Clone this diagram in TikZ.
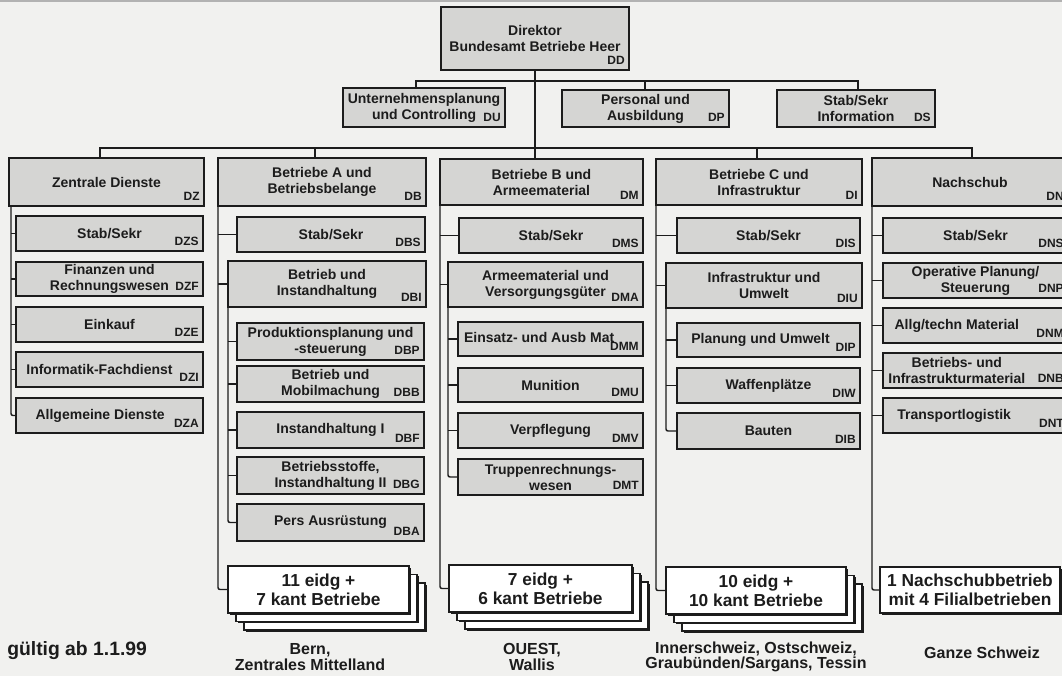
\documentclass[tikz,border=0pt]{standalone}
\usepackage{fontspec}
\setmainfont{Liberation Sans}
\usetikzlibrary{shadows,backgrounds}
\definecolor{bg}{HTML}{F1F1EF}
\definecolor{boxfill}{HTML}{D5D5D3}
\definecolor{ink}{HTML}{1C1C1C}
\tikzset{
  gbox/.style={draw=ink, line width=1.1pt, fill=boxfill, inner sep=0pt, outer sep=0pt,
    drop shadow={shadow xshift=1.1pt, shadow yshift=-1.1pt, fill=ink, opacity=1}},
  wbox/.style={draw=ink, line width=1.1pt, fill=white, inner sep=0pt, outer sep=0pt,
    drop shadow={shadow xshift=1.3pt, shadow yshift=-1.3pt, fill=ink, opacity=1}},
  main/.style={font=\bfseries\fontsize{10.5}{12}\selectfont, align=center, inner sep=0pt, text=ink},
  code/.style={font=\bfseries\fontsize{9}{10}\selectfont, inner xsep=3pt, inner ysep=4pt, text=ink, anchor=south east},
  big/.style={font=\bfseries\fontsize{13}{14.5}\selectfont, align=center, inner sep=0pt, text=ink},
  lbl/.style={font=\bfseries\fontsize{12}{11.5}\selectfont, align=center, inner sep=0pt, text=ink},
  conn/.style={draw=ink, line width=1.1pt},
  rc/.style={rounded corners=1.5pt},
}
% #1 text options, #2 name, #3 x1, #4 y1, #5 x2, #6 y2, #7 text, #8 code
\newcommand\bx[8][]{%
  \node[gbox, minimum width={(#5-#3)*0.75pt}, minimum height={(#6-#4)*0.75pt}] (#2) at ({(#3+#5)/2},{(#4+#6)/2}) {};
  \node[main,#1] (#2t) at (#2.center) {#7};
  \node[code] (#2c) at (#2.south east) {#8};}
% stacked white boxes: #1 name, #2 x1, #3 y1, #4 x2, #5 y2, #6 text
\newcommand\stk[6]{%
  \node[wbox, minimum width={(#4-#2)*0.75pt}, minimum height={(#5-#3)*0.75pt}] (#1c) at ({(#2+#4)/2+16},{(#3+#5)/2+17}) {};
  \node[wbox, minimum width={(#4-#2)*0.75pt}, minimum height={(#5-#3)*0.75pt}] (#1b) at ({(#2+#4)/2+8},{(#3+#5)/2+8.5}) {};
  \node[wbox, minimum width={(#4-#2)*0.75pt}, minimum height={(#5-#3)*0.75pt}] (#1) at ({(#2+#4)/2},{(#3+#5)/2}) {};
  \node[big] (#1t) at (#1.center) {#6};}
\begin{document}
\begin{tikzpicture}[x=0.75pt,y=-0.75pt]
\useasboundingbox (0,0) rectangle (1062,676);
\begin{scope}[on background layer]
  \fill[bg] (0,0) rectangle (1062,676);
  \draw[gray!60, line width=1.5pt] (0,1) -- (1062,1);
\end{scope}

% director and staff
\bx{D}{441}{7}{629}{70}{Direktor\\Bundesamt Betriebe Heer}{DD}
\bx[align=right]{DU}{343}{88}{505}{127}{Unternehmensplanung\\und Controlling\hspace*{18pt}}{DU}
\bx{DP}{562}{90}{729}{127}{Personal und\\Ausbildung}{DP}
\bx{DS}{777}{90}{935}{127}{Stab/Sekr\\Information}{DS}

% column heads
\bx{DZ}{9}{158}{204}{206}{Zentrale Dienste}{DZ}
\bx{DB}{218}{158}{426}{206}{Betriebe A und\\Betriebsbelange}{DB}
\bx{DM}{440}{159}{643}{205}{Betriebe B und\\Armeematerial}{DM}
\bx{DI}{656}{159}{862}{205}{Betriebe C und\\Infrastruktur}{DI}
\bx{DN}{872}{158}{1068}{206}{Nachschub}{DN}

% DZ
\bx{DZS}{16}{216}{203}{251}{Stab/Sekr}{DZS}
\bx{DZF}{16}{262}{203}{296}{Finanzen und\\Rechnungswesen}{DZF}
\bx{DZE}{16}{307}{203}{342}{Einkauf}{DZE}
\bx[xshift=-7.5pt]{DZI}{16}{352}{203}{387}{Informatik-Fachdienst}{DZI}
\bx[xshift=-7pt]{DZA}{16}{398}{203}{433}{Allgemeine Dienste}{DZA}

% DB
\bx{DBS}{237}{217}{425}{252}{Stab/Sekr}{DBS}
\bx{DBI}{228}{261}{426}{307}{Betrieb und\\Instandhaltung}{DBI}
\bx{DBP}{237}{323}{424}{360}{Produktionsplanung und\\-steuerung}{DBP}
\bx{DBB}{237}{366}{424}{402}{Betrieb und\\Mobilmachung}{DBB}
\bx{DBF}{237}{412}{424}{448}{Instandhaltung I}{DBF}
\bx{DBG}{237}{457}{424}{494}{Betriebsstoffe,\\Instandhaltung II}{DBG}
\bx{DBA}{237}{504}{424}{541}{Pers Ausrüstung}{DBA}

% DM
\bx{DMS}{459}{218}{643}{253}{Stab/Sekr}{DMS}
\bx{DMA}{448}{262}{643}{307}{Armeematerial und\\Versorgungsgüter}{DMA}
\bx[xshift=-8.5pt,yshift=1pt]{DMM}{458}{322}{643}{356}{Einsatz- und Ausb Mat}{DMM}
\bx{DMU}{458}{368}{643}{402}{Munition}{DMU}
\bx{DMV}{458}{413}{643}{448}{Verpflegung}{DMV}
\bx{DMT}{458}{459}{643}{495}{Truppenrechnungs-\\wesen}{DMT}

% DI
\bx{DIS}{677}{218}{860}{253}{Stab/Sekr}{DIS}
\bx{DIU}{666}{263}{862}{308}{Infrastruktur und\\Umwelt}{DIU}
\bx[xshift=-6pt]{DIP}{677}{323}{860}{357}{Planung und Umwelt}{DIP}
\bx{DIW}{677}{368}{860}{403}{Waffenplätze}{DIW}
\bx{DIB}{677}{413}{860}{449}{Bauten}{DIB}

% DN
\bx{DNS}{883}{218}{1068}{253}{Stab/Sekr}{DNS}
\bx{DNP}{883}{263}{1068}{298}{Operative Planung/\\Steuerung}{DNP}
\bx[xshift=-14pt]{DNM}{883}{308}{1068}{343}{Allg/techn Material}{DNM}
\bx[xshift=-14pt]{DNB}{883}{353}{1068}{388}{Betriebs- und\\Infrastrukturmaterial}{DNB}
\bx[xshift=-16pt]{DNT}{883}{398}{1068}{433}{Transportlogistik}{DNT}

% Betriebe
\stk{DBst}{228}{566}{409}{613}{11 eidg +\\7 kant Betriebe}
\stk{DMst}{449}{565}{632}{612}{7 eidg +\\6 kant Betriebe}
\stk{DIst}{666}{567}{846}{614}{10 eidg +\\10 kant Betriebe}
\node[wbox, minimum width={180*0.75pt}, minimum height={46*0.75pt}] (DNst) at (970,590) {};
\node[big] (DNstt) at (DNst.center) {1 Nachschubbetrieb\\mit 4 Filialbetrieben};

% regions
\node[lbl] (lB) at (310,657) {Bern,\\Zentrales Mittelland};
\node[lbl] (lM) at (532,657) {OUEST,\\Wallis};
\node[lbl] (lI) at (756,657) {Innerschweiz, Ostschweiz,\\Graubünden/Sargans, Tessin};
\node[lbl] (lN) at (982,653) {Ganze Schweiz};
\node[font=\bfseries\fontsize{14.5}{16}\selectfont, anchor=west, inner sep=0pt, text=ink] (valid) at (7,651) {gültig ab 1.1.99};

% connectors
\begin{scope}[on background layer]
  \coordinate (sU) at (416,81);
  \coordinate (sP) at (645,81);
  \coordinate (sS) at (858,81);
  \draw[conn] (sU |- DU.north) -- (sU) -- (sS) -- (sS |- DS.north);
  \draw[conn] (sP) -- (sP |- DP.north);
  \draw[conn] (D.south) -- (D.south |- DM.north);
  \coordinate (bZ) at (100,148);
  \coordinate (bB) at (315,148);
  \coordinate (bI) at (757,148);
  \coordinate (bN) at (972,148);
  \draw[conn] (bZ |- DZ.north) -- (bZ) -- (bN) -- (bN |- DN.north);
  \draw[conn] (bB) -- (bB |- DB.north);
  \draw[conn] (bI) -- (bI |- DI.north);
  % DZ column
  \coordinate (zx) at ([xshift=1.5pt]DZ.south west);
  \draw[conn,rc] (zx) |- (DZA.west);
  \foreach \s in {DZS,DZF,DZE,DZI} \draw[conn] (zx |- \s.west) -- (\s.west);
  % DB column
  \draw[conn,rc] (DB.south west) |- (DBst.west);
  \foreach \s in {DBS,DBI} \draw[conn] (DB.south west |- \s.west) -- (\s.west);
  \draw[conn,rc] (DBI.south west) |- (DBA.west);
  \foreach \s in {DBP,DBB,DBF,DBG} \draw[conn] (DBI.south west |- \s.west) -- (\s.west);
  % DM column
  \draw[conn,rc] (DM.south west) |- (DMst.west);
  \foreach \s in {DMS,DMA} \draw[conn] (DM.south west |- \s.west) -- (\s.west);
  \draw[conn,rc] (DMA.south west) |- (DMT.west);
  \foreach \s in {DMM,DMU,DMV} \draw[conn] (DMA.south west |- \s.west) -- (\s.west);
  % DI column
  \draw[conn,rc] (DI.south west) |- (DIst.west);
  \foreach \s in {DIS,DIU} \draw[conn] (DI.south west |- \s.west) -- (\s.west);
  \draw[conn,rc] (DIU.south west) |- (DIB.west);
  \foreach \s in {DIP,DIW} \draw[conn] (DIU.south west |- \s.west) -- (\s.west);
  % DN column
  \draw[conn,rc] (DN.south west) |- (DNst.west);
  \foreach \s in {DNS,DNP,DNM,DNB,DNT} \draw[conn] (DN.south west |- \s.west) -- (\s.west);
\end{scope}
\end{tikzpicture}
\end{document}
